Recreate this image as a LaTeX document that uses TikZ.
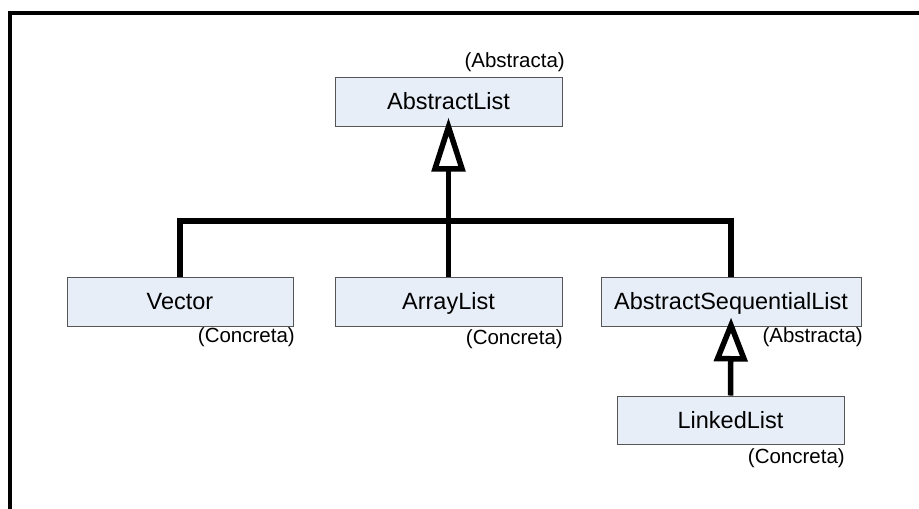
\documentclass[tikz,border=0pt]{standalone}
\usepackage{fontspec}
\setmainfont{Liberation Sans}
\usetikzlibrary{arrows.meta}
\definecolor{classfill}{RGB}{232,238,248}
\definecolor{classline}{RGB}{85,85,85}
\begin{document}
	\begin{tikzpicture}[x=1pt,y=-1pt,
		class/.style={draw=classline,fill=classfill,line width=1pt,minimum height=49pt,inner sep=0pt,text height=16pt,text depth=0pt,font=\fontsize{23.5}{28}\selectfont},
		note/.style={anchor=east,inner sep=0pt,font=\fontsize{20.5}{24}\selectfont},
		inherit/.style={line width=5.5pt,shorten >=-9pt,-{Triangle[open,length=#1,width=33pt]}},
		bus/.style={line width=5.5pt}]
		\useasboundingbox (0,0) rectangle (919,509);
		\draw [line width=3.5pt] (10,509) -- (10,13) -- (919,13);
		\node [class,minimum width=227pt] (0) at (448.5,101.5) {AbstractList};
		\node [class,minimum width=226pt] (1) at (180,301.5) {Vector};
		\node [class,minimum width=227pt] (2) at (448.5,301.5) {ArrayList};
		\node [class,minimum width=260pt] (3) at (731,301.5) {AbstractSequentialList};
		\node [class,minimum width=227pt,minimum height=48pt] (4) at (730.5,420) {LinkedList};
		\node [note] (0n) at (565,62.5) {(Abstracta)};
		\node [note] (1n) at (295,337) {(Concreta)};
		\node [note] (2n) at (563,339.5) {(Concreta)};
		\node [note] (3n) at (863,337) {(Abstracta)};
		\node [note] (4n) at (845,458) {(Concreta)};
		\coordinate (bus) at (448.5,221);
		\draw [bus] (1.north) |- (bus) -| (3.north);
		\draw [inherit=54pt] (2.north) -- (0.south);
		\draw [inherit=44pt] (4.north) -- (3.south);
	\end{tikzpicture}
\end{document}
